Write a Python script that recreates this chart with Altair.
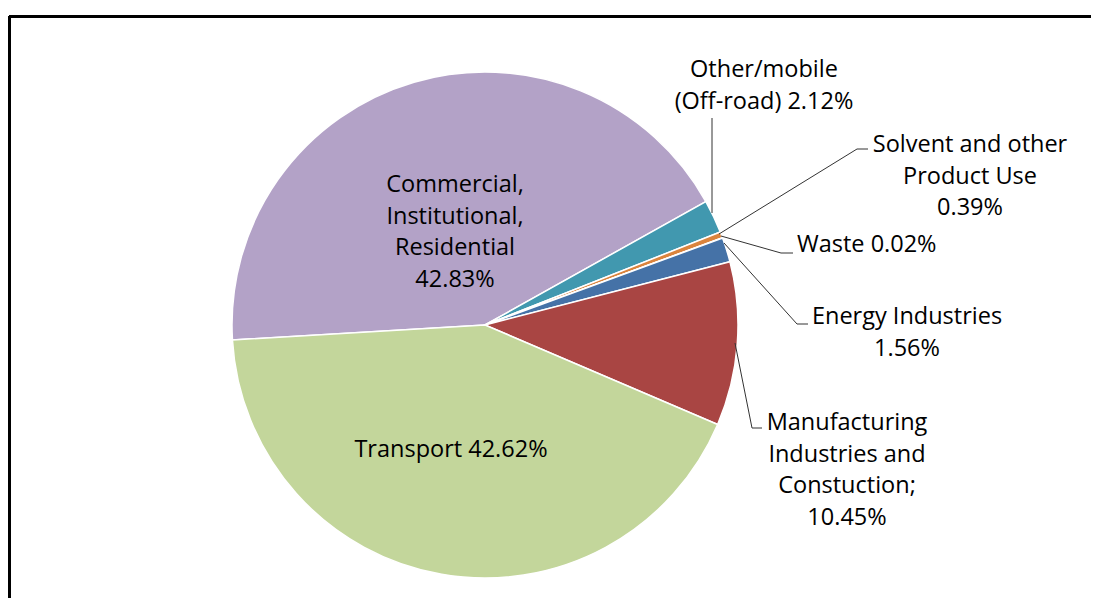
import altair as alt
import pandas as pd

# ---- data ----
categories = [
    "Commercial, Institutional, Residential",
    "Other/mobile (Off-road)",
    "Solvent and other Product Use",
    "Waste",
    "Energy Industries",
    "Manufacturing Industries and Constuction",
    "Transport",
]
shares = [42.83, 2.12, 0.39, 0.02, 1.56, 10.45, 42.62]
slice_colors = ["#B3A2C7", "#4198AF", "#DB843D", "#8EA6CF", "#4572A7", "#A94543", "#C3D69B"]

label_texts = [
    "Commercial,\nInstitutional,\nResidential\n42.83%",
    "Other/mobile\n(Off-road) 2.12%",
    "Solvent and other\nProduct Use\n0.39%",
    "Waste 0.02%",
    "Energy Industries\n1.56%",
    "Manufacturing\nIndustries and\nConstuction;\n10.45%",
    "Transport 42.62%",
]

# ---- layout (pixels in the chart area) ----
W, H = 1083, 590
CX, CY, R = 477, 317, 253
START = 4.653  # radians, first slice start (clockwise from 12 o'clock)
label_x = [447, 756, 962, 789, 899, 839, 443]
label_y = [177, 62, 137, 237, 309, 415, 442]   # first line of each label
label_align = ["center", "center", "center", "left", "center", "center", "center"]

leader_pts = {
    "Other/mobile (Off-road)": [(704, 110), (704, 205)],
    "Solvent and other Product Use": [(711, 226), (849, 141), (860, 141)],
    "Waste": [(713, 228), (773, 245), (785, 245)],
    "Energy Industries": [(716, 235), (789, 316), (800, 316)],
    "Manufacturing Industries and Constuction": [(727, 335), (744, 420), (754, 420)],
}

pie_df = pd.DataFrame({"category": categories, "share": shares, "order": list(range(len(categories)))})
lab_df = pd.DataFrame({"text": label_texts, "x": label_x, "y": label_y, "align": label_align})
rows = []
for name, pts in leader_pts.items():
    for i, (px, py) in enumerate(pts):
        rows.append({"name": name, "i": i, "x": px, "y": py})
lead_df = pd.DataFrame(rows)

xs = alt.Scale(domain=[0, W], range=[0, W])
ys = alt.Scale(domain=[0, H], range=[0, H])

pie = alt.Chart(pie_df).mark_arc(stroke="white", strokeWidth=1.5, radius=R).encode(
    theta=alt.Theta("share:Q", stack=True, scale=alt.Scale(range=[START, START + 6.283185307])),
    color=alt.Color("category:N", scale=alt.Scale(domain=categories, range=slice_colors), legend=None),
    order=alt.Order("order:Q"),
    x=alt.value(CX),
    y=alt.value(CY),
)

leaders = alt.Chart(lead_df).mark_line(color="#333333", strokeWidth=1).encode(
    x=alt.X("x:Q", scale=xs, axis=None),
    y=alt.Y("y:Q", scale=ys, axis=None),
    detail="name:N",
    order="i:Q",
)

def text_layer(align):
    return alt.Chart(lab_df[lab_df["align"] == align]).mark_text(
        font="Open Sans", fontSize=23.5, lineHeight=31.5, lineBreak="\n", align=align,
        baseline="middle", color="#000000",
    ).encode(
        x=alt.X("x:Q", scale=xs, axis=None),
        y=alt.Y("y:Q", scale=ys, axis=None),
        text="text:N",
    )

frame_top = alt.Chart(pie_df).mark_rule(color="black", strokeWidth=3).encode(
    x=alt.value(1.5), x2=alt.value(W), y=alt.value(8.5)
)
frame_left = alt.Chart(pie_df).mark_rule(color="black", strokeWidth=3).encode(
    x=alt.value(1.5), y=alt.value(8.5), y2=alt.value(H)
)

chart = alt.layer(
    pie, leaders, text_layer("center"), text_layer("left"), frame_top, frame_left
).properties(
    width=W, height=H, autosize=alt.AutoSizeParams(type="none"), padding=0
).configure_view(stroke="transparent", strokeWidth=0)

chart.save("out.html", embed_options={"renderer": "svg", "actions": False})
